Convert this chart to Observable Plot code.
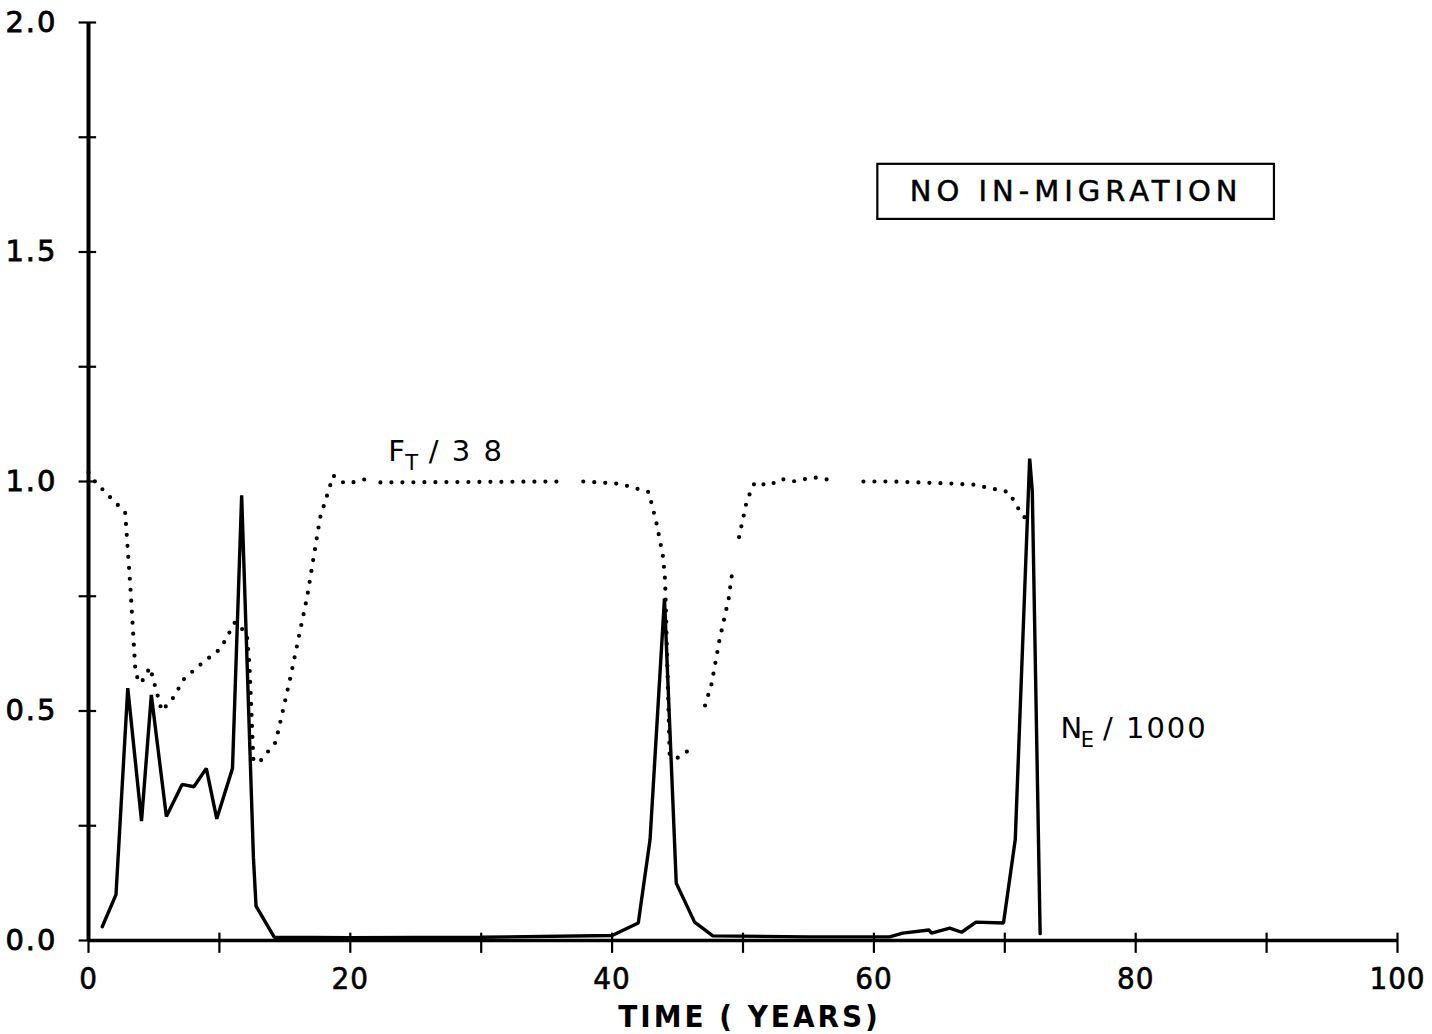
<!DOCTYPE html>
<html>
<head>
<meta charset="utf-8">
<script src="https://cdn.jsdelivr.net/npm/d3@7"></script>
<script src="https://cdn.jsdelivr.net/npm/@observablehq/plot@0.6"></script>
<style>
  html, body { margin: 0; padding: 0; background: #fff; }
  #chart { width: 1432px; height: 1034px; }
</style>
</head>
<body>
<div id="chart"></div>
<script>
// N_E / 1000 (solid line)
const neYears = [1.05, 2.1, 3.0, 4.05, 4.8, 5.95, 7.15, 8.05, 9.0, 9.8, 11.0, 11.7, 12.6, 12.8, 14.2, 20, 30, 40.0, 42.0, 42.9, 44.0, 44.9, 46.3, 47.7, 55, 61.2, 62.2, 64.2, 64.4, 65.8, 66.7, 67.8, 69.9, 70.8, 71.9, 72.1, 72.7];
const neValues = [0.03, 0.10, 0.55, 0.26, 0.535, 0.27, 0.34, 0.335, 0.375, 0.265, 0.375, 0.97, 0.18, 0.075, 0.007, 0.006, 0.007, 0.011, 0.038, 0.22, 0.745, 0.125, 0.04, 0.01, 0.008, 0.008, 0.016, 0.023, 0.016, 0.027, 0.018, 0.04, 0.038, 0.22, 1.05, 0.98, 0.015];

// F_T / 38 (dotted line); null marks a break in the dotted trace
const ftYears = [0, 0.4, 1.5, 2.8, 3.2, 3.6, 4.0, 4.7, 5.6, 6.5, 7.3, 8.5, 10.1, 11.2, 12.1, 12.3, 12.6, 13.1, 14.3, 15.4, 16.7, 17.7, 18.7, 19.3, 19.75, 21.3, 21.8, 22.3, 36.3, 37.0, 37.8, 40.6, 42.8, 43.4, 43.9, 44.05, 44.4, 44.9, 45.5, 46.2, 46.6, 47.1, 47.6, 48.2, 48.9, 49.2, 49.45, 49.7, 50.3, 50.9, 52.0, 52.9, 53.8, 55.4, 56.7, 58.0, 59.2, 61.2, 65.5, 67.6, 70.3, 71.2, 71.5, 71.9];
const ftValues = [1.02, 1.003, 0.97, 0.933, 0.77, 0.58, 0.56, 0.595, 0.50, 0.53, 0.57, 0.60, 0.636, 0.694, 0.668, 0.60, 0.39, 0.39, 0.432, 0.57, 0.748, 0.922, 1.013, 1.0, 0.995, 1.006, null, 0.998, 1.0, null, 1.0, 0.995, 0.977, 0.908, 0.835, 0.784, 0.403, 0.396, 0.408, 0.42, null, 0.512, 0.559, 0.654, 0.744, 0.807, null, 0.879, 0.959, 0.998, 0.991, 1.006, 1.0, 1.009, 1.003, null, 1.0, 1.0, 0.996, 0.993, 0.977, 0.933, 0.922, 0.94];

// axes
const xTickLabels = [0, 20, 40, 60, 80, 100];
const xTickMarks = [0, 10, 20, 30, 40, 50, 60, 70, 80, 90, 100];
const yTickLabels = [0, 0.5, 1.0, 1.5, 2.0];
const yTickMarks = [0, 0.25, 0.5, 0.75, 1.0, 1.25, 1.5, 1.75, 2.0];
const xTitle = "TIME ( YEARS)";

// annotations (anchor in data units)
const ftLabel = [{x: 22.9, y: 1.065, t: "F"}, {x: 26.0, y: 1.065, t: "/ 3 8"}];
const ftSub = [{x: 24.2, y: 1.039, t: "T"}];
const neLabel = [{x: 74.25, y: 0.461, t: "N"}, {x: 77.5, y: 0.461, t: "/ 1000"}];
const neSub = [{x: 75.8, y: 0.437, t: "E"}];
const boxLabel = [{x: 75.45, y: 1.631, t: "NO IN-MIGRATION"}];
const boxFrame = [{x1: 60.3, x2: 90.6, y1: 1.571, y2: 1.691}];

const ne = neYears.map((x, i) => ({x, y: neValues[i]}));
const ft = ftYears.map((x, i) => ({x, y: ftValues[i]}));

const chart = Plot.plot({
  width: 1432,
  height: 1034,
  marginLeft: 88,
  marginRight: 35,
  marginTop: 22,
  marginBottom: 94,
  style: {background: "#fff", color: "#000", fontFamily: "DejaVu Sans", fontSize: "30px"},
  x: {domain: [0, 100]},
  y: {domain: [0, 2]},
  marks: [
    Plot.ruleY(yTickMarks, {y: d => d, x1: -0.72, x2: 0.62, stroke: "#000", strokeWidth: 2.2}),
    Plot.ruleX(xTickMarks, {x: d => d, y1: -0.028, y2: 0.016, stroke: "#000", strokeWidth: 2.2}),
    Plot.ruleX([0], {y1: 0, y2: 2, stroke: "#000", strokeWidth: 4}),
    Plot.ruleY([0], {x1: 0, x2: 100, stroke: "#000", strokeWidth: 3.5}),
    Plot.line(ne, {x: "x", y: "y", stroke: "#000", strokeWidth: 3.4, strokeLinejoin: "miter"}),
    Plot.line(ft, {x: "x", y: "y", stroke: "#000", strokeWidth: 4.2, strokeDasharray: "0,11", strokeLinecap: "round"}),
    Plot.axisX({ticks: xTickLabels, tickSize: 0, tickPadding: 26, label: null, fontSize: 31, fontFamily: "DejaVu Sans Condensed"}),
    Plot.axisY({ticks: yTickLabels, tickSize: 0, tickPadding: 31, label: null, tickFormat: d3.format(".1f"), fontSize: 29}),
    Plot.text([xTitle], {x: 50.5, y: -0.166, text: d => d, fontSize: 31, fontFamily: "DejaVu Sans Condensed", fontWeight: "bold", textAnchor: "middle"}),
    Plot.text(ftLabel, {x: "x", y: "y", text: "t", fontSize: 29, textAnchor: "start"}),
    Plot.text(ftSub, {x: "x", y: "y", text: "t", fontSize: 21, textAnchor: "start"}),
    Plot.text(neLabel, {x: "x", y: "y", text: "t", fontSize: 29, textAnchor: "start"}),
    Plot.text(neSub, {x: "x", y: "y", text: "t", fontSize: 21, textAnchor: "start"}),
    Plot.rect(boxFrame, {x1: "x1", x2: "x2", y1: "y1", y2: "y2", fill: "none", stroke: "#000", strokeWidth: 2.2}),
    Plot.text(boxLabel, {x: "x", y: "y", text: "t", fontSize: 29, textAnchor: "middle"})
  ]
});

document.getElementById("chart").appendChild(chart);
const svg = d3.select(chart);
svg.selectAll('g[aria-label="y-axis tick label"] text').attr("letter-spacing", "2px").attr("stroke", "#000").attr("stroke-width", 0.8);
svg.selectAll('g[aria-label="x-axis tick label"] text').attr("letter-spacing", "1px").attr("stroke", "#000").attr("stroke-width", 0.6);
svg.selectAll("text").filter(function() { return this.textContent === "NO IN-MIGRATION"; }).attr("letter-spacing", "5px").attr("stroke", "#000").attr("stroke-width", 0.5);
svg.selectAll("text").filter(function() { return this.textContent === xTitle; }).attr("letter-spacing", "3px");
svg.selectAll("text").filter(function() { return ["/ 3 8", "/ 1000"].includes(this.textContent); }).attr("letter-spacing", "2px");
</script>
</body>
</html>
